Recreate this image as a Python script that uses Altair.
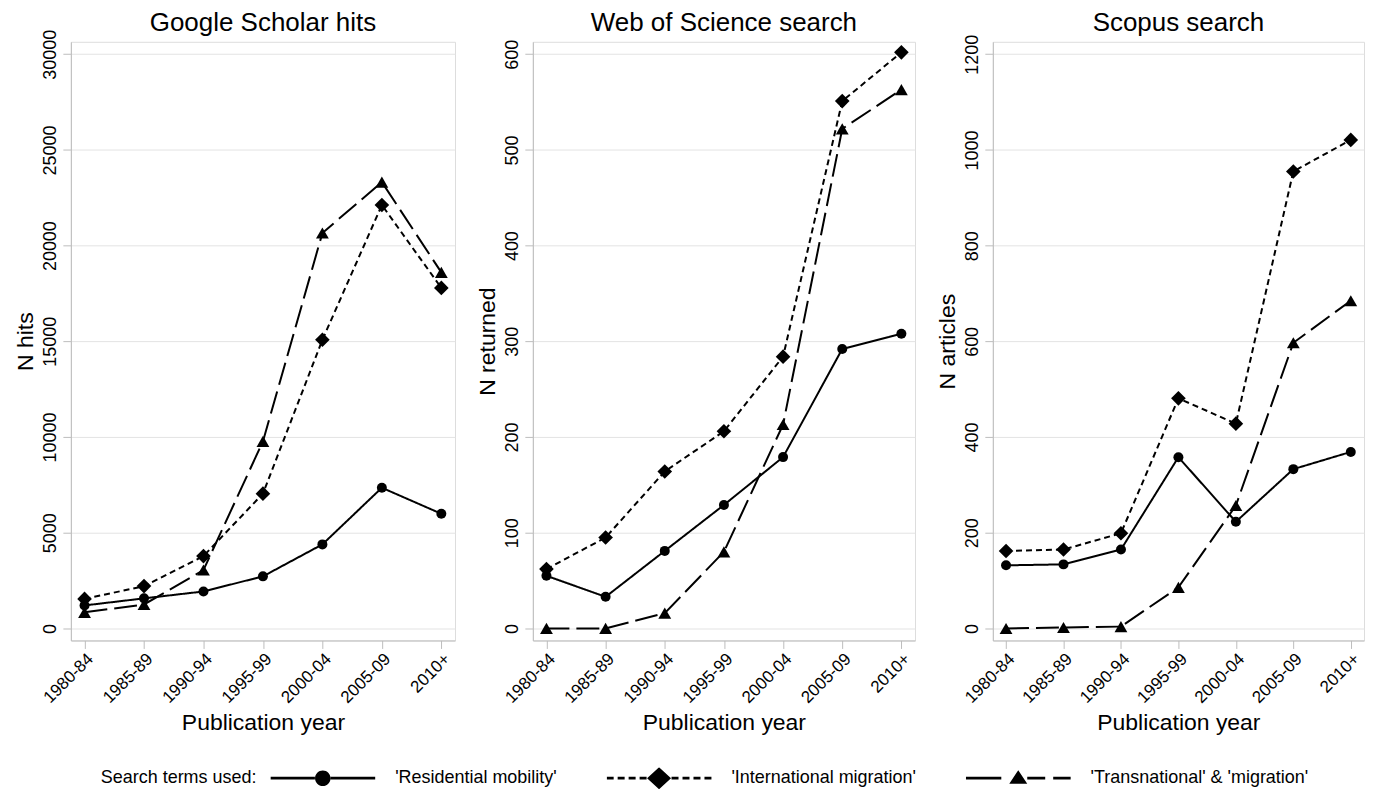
import altair as alt
import pandas as pd

periods = ["1980-84", "1985-89", "1990-94", "1995-99", "2000-04", "2005-09", "2010+"]
keys = ["res", "int", "tr"]
series_names = ["'Residential mobility'", "'International migration'", "'Transnational' & 'migration'"]

# Google Scholar hits
gs_res = [1200, 1570, 1930, 2720, 4390, 7350, 5990]
gs_int = [1540, 2210, 3780, 7040, 15080, 22120, 17790]
gs_tr = [840, 1250, 3050, 9770, 20660, 23320, 18600]
# Web of Science
wos_res = [55, 33, 81, 129, 179, 292, 308]
wos_int = [62, 95, 164, 206, 284, 551, 602]
wos_tr = [0, 0, 16, 80, 213, 522, 563]
# Scopus
sc_res = [132, 134, 165, 358, 223, 333, 369]
sc_int = [162, 165, 199, 481, 428, 955, 1021]
sc_tr = [0, 2, 4, 86, 257, 597, 685]

FONT = "Liberation Sans"
dashes = {"res": [1, 0], "int": [6, 4], "tr": [23, 7]}
shapes = {"res": "circle", "int": "diamond", "tr": "triangle-up"}
sizes = {"res": 100, "int": 215, "tr": 165}

# ---- legend symbol glyphs (line + marker) as custom SVG paths ----
LEG_SIZE = 11025          # symbol area -> 105 px wide glyph
S = LEG_SIZE ** 0.5 / 2   # px per path unit
T = 1.3                   # half line thickness (px)


def _f(v):
    return f"{v / S:.4f}"


def seg(x0, x1):
    return f"M{_f(x0)},{_f(-T)}H{_f(x1)}V{_f(T)}H{_f(x0)}Z"


def circle(r):
    return (f"M{_f(-r)},0A{_f(r)},{_f(r)} 0 1,1 {_f(r)},0"
            f"A{_f(r)},{_f(r)} 0 1,1 {_f(-r)},0Z")


def diamond(w, h):
    return f"M0,{_f(-h)}L{_f(w)},0L0,{_f(h)}L{_f(-w)},0Z"


def triangle(w, top, bot):
    return f"M0,{_f(-top)}L{_f(w)},{_f(bot)}L{_f(-w)},{_f(bot)}Z"


half = S
path_res = seg(-half, -7.9) + seg(7.9, half) + circle(7.8)
int_segs = [(-52.5, -45.5), (-41.5, -34.5), (-30.5, -23.5), (-19.5, -12.5),
            (12.5, 19.5), (23.5, 30.5), (34.5, 41.5), (45.5, 52.5)]
path_int = "".join(seg(a, b) for a, b in int_segs) + diamond(12, 11)
path_tr = seg(-half, -17) + seg(9, 27) + seg(35, half) + triangle(9, 8, 5.5)
legend_paths = [path_res, path_int, path_tr]


def make_df(res, intl, tr):
    rows = []
    for k, s, vals in zip(keys, series_names, [res, intl, tr]):
        for p, v in zip(periods, vals):
            rows.append({"period": p, "key": k, "series": s, "value": v})
    return pd.DataFrame(rows)


def panel(df, title, ytitle, ymax, step, dom, width, tdy, with_legend=False):
    x = alt.X(
        "period:N", sort=periods,
        scale=alt.Scale(type="point", padding=0.23),
        axis=alt.Axis(title="Publication year", labelAngle=315, labelFontSize=17,
                      titleFontSize=23, titleFontWeight="normal", titlePadding=6,
                      domainColor="#bdbdbd", tickColor="#bdbdbd", tickSize=8,
                      labelFont=FONT, titleFont=FONT, labelColor="black", titleColor="black",
                      grid=False, labelPadding=2),
    )
    y = alt.Y(
        "value:Q",
        scale=alt.Scale(domain=dom, nice=False, zero=False),
        axis=alt.Axis(title=ytitle, values=list(range(0, ymax + 1, step)), format="d",
                      labelAngle=270, labelAlign="center", labelBaseline="bottom",
                      labelFontSize=18, titleFontSize=23, titleFontWeight="normal",
                      titlePadding=4, domainColor="#bdbdbd", tickColor="#bdbdbd", tickSize=8,
                      gridColor="#e3e3e3", labelFont=FONT, titleFont=FONT,
                      labelColor="black", titleColor="black", labelPadding=3),
    )
    base = alt.Chart(df).encode(x=x, y=y)
    layers = []
    for k in keys:
        sub = base.transform_filter(alt.FieldEqualPredicate(field="key", equal=k))
        layers.append(sub.mark_line(color="black", strokeWidth=2, strokeDash=dashes[k]))
    for k in keys:
        sub = base.transform_filter(alt.FieldEqualPredicate(field="key", equal=k))
        layers.append(sub.mark_point(shape=shapes[k], size=sizes[k], filled=True,
                                     color="black", opacity=1))
    if with_legend:
        leg_props = dict(
            title="Search terms used:", orient="none", legendX=30, legendY=727,
            direction="horizontal", titleOrient="left", symbolSize=LEG_SIZE, clipHeight=22,
            symbolStrokeWidth=0, labelFontSize=18, titleFontSize=18,
            titleFontWeight="normal", titleFont=FONT, labelFont=FONT,
            labelColor="black", titleColor="black", columnPadding=50, labelOffset=20,
            titlePadding=13, symbolFillColor="black", symbolStrokeColor="black",
            symbolOpacity=1, labelLimit=400,
        )
        leg = base.mark_point(opacity=0, filled=True, fill="black", strokeWidth=0).encode(
            shape=alt.Shape("series:N", scale=alt.Scale(domain=series_names, range=legend_paths),
                            legend=alt.Legend(**leg_props)),
        )
        layers.append(leg)
    return alt.layer(*layers).properties(
        width=width, height=600,
        title=alt.TitleParams(title, fontSize=26, font=FONT, fontWeight="normal",
                              color="black", offset=3, frame="group", dy=tdy),
    )


p1 = panel(make_df(gs_res, gs_int, gs_tr), "Google Scholar hits", "N hits", 30000, 5000,
           [-630, 30650], 385, 10, with_legend=True)
p2 = panel(make_df(wos_res, wos_int, wos_tr), "Web of Science search", "N returned", 600, 100,
           [-12.6, 613], 383, 0)
p3 = panel(make_df(sc_res, sc_int, sc_tr), "Scopus search", "N articles", 1200, 200,
           [-25, 1226], 372, 5)

chart = alt.hconcat(p1, p2, p3, spacing=20).properties(
    padding={"left": 6, "top": 0, "right": 0, "bottom": 0}
).configure_view(stroke=None).configure(background="white")

chart.save("out.html", embed_options={"renderer": "svg", "actions": False})
